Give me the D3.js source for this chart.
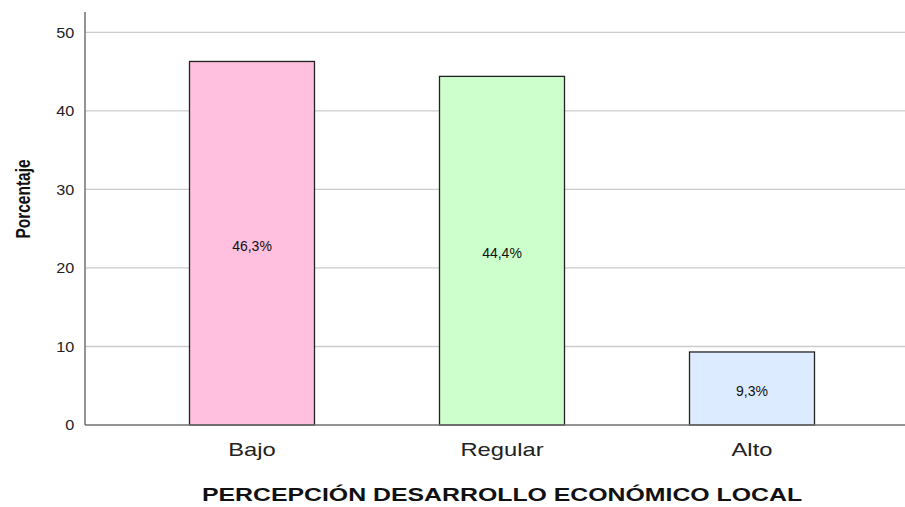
<!DOCTYPE html>
<html>
<head>
<meta charset="utf-8">
<script src="https://cdn.jsdelivr.net/npm/d3@7"></script>
<style>
  body { margin: 0; background: #fff; }
  text { font-family: Arial, "Liberation Sans", sans-serif; }
</style>
</head>
<body>
<svg id="chart" width="905" height="507"></svg>
<script>
var categories = ['Bajo', 'Regular', 'Alto'];
var values = [46.3, 44.4, 9.3];
var labels = ['46,3%', '44,4%', '9,3%'];
var colors = ['#ffbfdf', '#ccffcc', '#dcebff'];
var yTicks = [0, 10, 20, 30, 40, 50];

var svg = d3.select('#chart');
var plotLeft = 85, plotRight = 919, plotTop = 12, plotBottom = 425;

var x = d3.scaleBand()
    .domain(categories)
    .range([plotLeft, plotRight])
    .paddingInner(0.5)
    .paddingOuter(0.418);

var y = d3.scaleLinear()
    .domain([0, 52.6])
    .range([plotBottom, plotTop]);

// grid
svg.append('g')
    .selectAll('line')
    .data(yTicks.slice(1))
    .enter().append('line')
    .attr('x1', plotLeft).attr('x2', 905)
    .attr('y1', function(d) { return y(d); })
    .attr('y2', function(d) { return y(d); })
    .attr('stroke', '#cccccc')
    .attr('stroke-width', 1.3);

// y axis
var yAxis = d3.axisLeft(y).tickValues(yTicks).tickSize(0).tickPadding(10);
svg.append('g')
    .attr('transform', 'translate(' + plotLeft + ',0)')
    .call(yAxis)
    .call(function(g) {
        g.select('.domain').remove();
        g.selectAll('text').style('font-size', '15px').attr('fill', '#222')
            .attr('transform', 'scale(1.08,1)');
    });

svg.append('line')
    .attr('x1', plotLeft).attr('x2', plotLeft)
    .attr('y1', plotTop).attr('y2', plotBottom)
    .attr('stroke', '#707070').attr('stroke-width', 1.5);

// bars
var data = categories.map(function(c, i) {
    return { cat: c, value: values[i], label: labels[i], color: colors[i] };
});

svg.append('g')
    .selectAll('rect')
    .data(data)
    .enter().append('rect')
    .attr('x', function(d) { return x(d.cat); })
    .attr('width', x.bandwidth())
    .attr('y', function(d) { return y(d.value); })
    .attr('height', function(d) { return plotBottom - y(d.value); })
    .attr('fill', function(d) { return d.color; })
    .attr('stroke', '#222')
    .attr('stroke-width', 1.3);

svg.append('g')
    .selectAll('text')
    .data(data)
    .enter().append('text')
    .attr('x', function(d) { return x(d.cat) + x.bandwidth() / 2; })
    .attr('y', function(d) { return (y(d.value) + plotBottom) / 2 + 7.5; })
    .attr('text-anchor', 'middle')
    .style('font-size', '14px')
    .attr('fill', '#111')
    .text(function(d) { return d.label; });

// x axis
svg.append('line')
    .attr('x1', plotLeft).attr('x2', 905)
    .attr('y1', plotBottom).attr('y2', plotBottom)
    .attr('stroke', '#707070').attr('stroke-width', 1.5);

var xAxis = d3.axisBottom(x).tickSize(0).tickPadding(18);
svg.append('g')
    .attr('transform', 'translate(0,' + plotBottom + ')')
    .call(xAxis)
    .call(function(g) {
        g.select('.domain').remove();
        g.selectAll('text').style('font-size', '19px').attr('fill', '#222')
            .attr('transform', 'scale(1.25,1)');
    });

// titles
svg.append('text')
    .attr('transform', 'translate(502,501) scale(1.38,1)')
    .attr('text-anchor', 'middle')
    .style('font-size', '18px').style('font-weight', 'bold')
    .attr('fill', '#111')
    .text('PERCEPCIÓN DESARROLLO ECONÓMICO LOCAL');

svg.append('text')
    .attr('transform', 'translate(30,199) rotate(-90) scale(1,1.25)')
    .attr('text-anchor', 'middle')
    .style('font-size', '15.5px').style('font-weight', 'bold')
    .attr('fill', '#111')
    .text('Porcentaje');
</script>
</body>
</html>
